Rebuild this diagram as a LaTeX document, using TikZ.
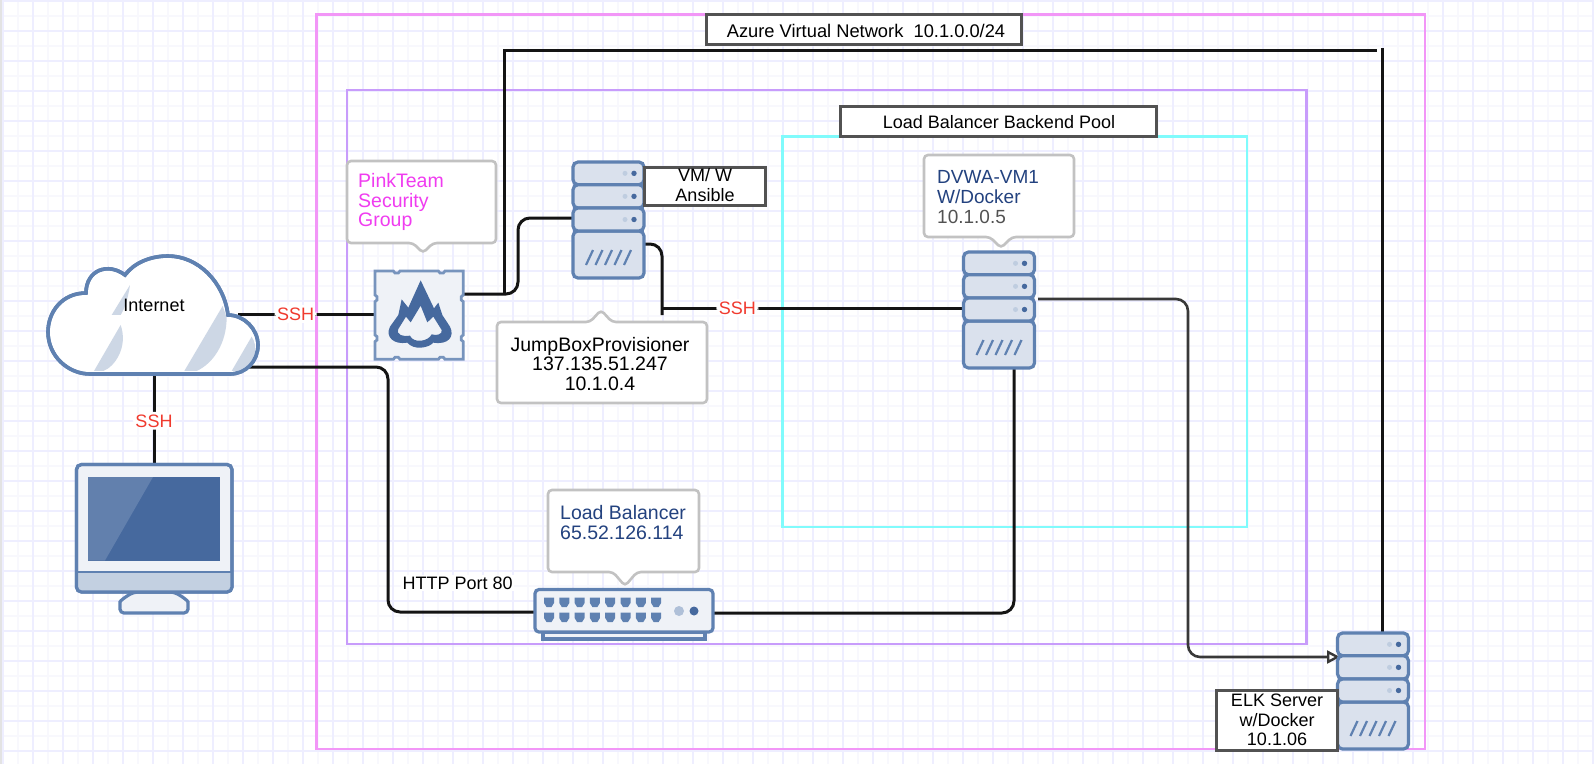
\documentclass[tikz,border=0pt]{standalone}
\usepackage{fontspec}
\setmainfont{Liberation Sans}
\usetikzlibrary{arrows.meta}
\definecolor{gridmaj}{HTML}{EEEEFF}
\definecolor{gridmin}{HTML}{F8F8FD}
\definecolor{iconblue}{HTML}{5F81B1}
\definecolor{deepblue}{HTML}{46699E}
\definecolor{panel}{HTML}{EFF2F7}
\definecolor{unitfill}{HTML}{DAE1ED}
\definecolor{cloudtint}{HTML}{CDD7E5}
\definecolor{chintint}{HTML}{C3D0E1}
\definecolor{sshred}{HTML}{F03A2E}
\definecolor{pinkreg}{HTML}{F296F7}
\definecolor{purpreg}{HTML}{C89CFB}
\definecolor{cyanreg}{HTML}{80FBFC}
\definecolor{navytext}{HTML}{23427F}
\definecolor{pinktext}{HTML}{F03CF0}
\tikzset{
  txt/.style={font=\fontsize{18}{19.6}\selectfont,inner sep=0pt,text=black},
  bubbletxt/.style={font=\fontsize{19.5}{19.6}\selectfont,inner sep=0pt,text=black},
  ssh/.style={font=\fontsize{18}{20}\selectfont,text=sshred,fill=white,inner sep=2.5pt},
  region/.style={line width=2.6pt,fill=none},
  wire/.style={line width=3pt,draw=black!92,rounded corners=12pt},
  thinwire/.style={line width=2.6pt,draw=black!78,rounded corners=12pt},
  labelbox/.style={draw=black!68,line width=3pt,fill=white},
  bubble/.style={draw=black!24,line width=2.6pt,fill=white,rounded corners=4pt},
  icon/.style={draw=iconblue,line width=3.2pt},
  serverpic/.pic={
    \draw[icon,fill=unitfill,rounded corners=5pt] (0,69) rectangle (71,116);
    \foreach \a/\b in {0/22.7,22.7/46,46/69}{
      \draw[icon,fill=unitfill,rounded corners=5pt] (0,\a) rectangle (71,\b);
      \fill[fill=iconblue!40] ({52},{(\a+\b)/2}) circle (2.5pt);
      \fill[fill=deepblue] ({61},{(\a+\b)/2}) circle (2.7pt);
    }
    \foreach \i in {0,...,4}{
      \draw[iconblue,line width=2.2pt] ({13+\i*9.5},103) -- ({20+\i*9.5},88);
    }
    \coordinate (-l3) at (0,56);
    \coordinate (-l2) at (0,24);
    \coordinate (-r3) at (74,47);
    \coordinate (-r4) at (72,82);
    \coordinate (-b) at (51,116);
    \coordinate (-t) at (45,0);
  }
}
\begin{document}
\begin{tikzpicture}[x=1pt,y=-1pt]
\useasboundingbox (0,0) rectangle (1594,764);
\fill[white] (0,0) rectangle (1594,764);
% grid
\foreach \k in {0,...,52}{
  \draw[gridmin,line width=1.3pt] ({18+30*\k},0) -- ({18+30*\k},764);
}
\foreach \k in {0,...,25}{
  \draw[gridmin,line width=1.3pt] (0,{16+30*\k}) -- (1594,{16+30*\k});
}
\foreach \k in {0,...,53}{
  \draw[gridmaj,line width=1.3pt] ({3+30*\k},0) -- ({3+30*\k},764);
}
\foreach \k in {0,...,25}{
  \draw[gridmaj,line width=1.3pt] (0,{1+30*\k}) -- (1594,{1+30*\k});
}
\fill[black!11] (0,0) rectangle (2,764);
% regions
\draw[region,pinkreg] (316.5,14.5) rectangle (1425,749);
\draw[region,purpreg] (347,90) rectangle (1306.7,644);
\draw[region,cyanreg] (782.7,136.5) rectangle (1247,527);
% anchors for connectors
\coordinate (cloudE) at (238,314);
\coordinate (cloudS) at (154,374);
\coordinate (cloudSE) at (243,367);
\coordinate (monN) at (154,464);
\coordinate (fwW) at (375,314);
\coordinate (fwE) at (463,294);
\coordinate (fwTap) at (504,294);
\coordinate (topEnd) at (1377,50);
\coordinate (riserTop) at (1382,48);
\coordinate (swW) at (535,612);
\coordinate (swE) at (713,613);
\coordinate (s1drop) at (662,308);
\coordinate (s1dropEnd) at (662,315);
% connectors
\draw[wire] (cloudE) -- (fwW) node[ssh,pos=0.42] (sshA) {SSH};
\draw[wire] (cloudS) -- (monN) node[ssh,pos=0.52] (sshB) {SSH};
\draw[wire] (cloudSE) -- (388,367) -- (388,612) -- (swW);
\draw[wire] (fwE) -- (518,294) -- (518,218) -- (573,218);
\draw[wire,rounded corners=0pt] (fwTap) -- (504,50) -- (topEnd);
\draw[wire,rounded corners=0pt] (riserTop) -- (1382,633);
\draw[wire] (645,244) -- (662,244) -- (s1dropEnd);
\draw[wire] (s1drop) -- (963,308) node[ssh,pos=0.25] (sshC) {SSH};
\draw[wire] (1014,368) -- (1014,613) -- (swE);
\draw[thinwire,-{Triangle[open,length=13pt,width=13pt,line width=2.4pt]}] (1038,299) -- (1188,299) -- (1188,657) -- (1340,657);
% cloud
\draw[icon,line width=3.6pt,fill=white] (90,374) -- (230,374)
  .. controls (246,374) and (258,361) .. (258,345)
  .. controls (258,329) and (244,315) .. (228,315)
  .. controls (224,282) and (198,256) .. (168,256)
  .. controls (150,256) and (134,263) .. (125,275)
  .. controls (108,262) and (86,270) .. (86,293)
  .. controls (62,293) and (48,312) .. (48,332)
  .. controls (48,356) and (68,374) .. (90,374) -- cycle;
\begin{scope}[shift={(0,230)},x=0.3333pt,y=-0.3333pt]
  \fill[cloudtint] (335,255) -- (390,165) .. controls (385,200) and (375,235) .. (362,255) -- cycle;
  \fill[cloudtint] (282,423) -- (362,285) .. controls (385,350) and (345,410) .. (310,423) -- cycle;
  \fill[cloudtint] (553,423) -- (668,228) -- (680,262) .. controls (680,340) and (640,400) .. (590,423) -- cycle;
  \fill[cloudtint] (695,423) -- (755,320) .. controls (775,350) and (770,395) .. (725,423) -- cycle;
\end{scope}
\draw[icon,line width=3.6pt] (90,374) -- (230,374)
  .. controls (246,374) and (258,361) .. (258,345)
  .. controls (258,329) and (244,315) .. (228,315)
  .. controls (224,282) and (198,256) .. (168,256)
  .. controls (150,256) and (134,263) .. (125,275)
  .. controls (108,262) and (86,270) .. (86,293)
  .. controls (62,293) and (48,312) .. (48,332)
  .. controls (48,356) and (68,374) .. (90,374) -- cycle;
\node[txt] (internet) at (154,305) {Internet};
% monitor
\draw[icon,fill=panel,rounded corners=4pt] (134,592) .. controls (125,597) and (120,601) .. (120,606) -- (120,613) -- (188,613) -- (188,606) .. controls (188,601) and (183,597) .. (174,592) -- cycle;
\draw[icon,fill=panel,rounded corners=5pt] (76.5,464.5) rectangle (232,592);
\fill[chintint] (78,572) rectangle (230.5,590.5);
\draw[iconblue,line width=1.6pt] (77,572) -- (232,572);
\draw[icon,rounded corners=5pt] (76.5,464.5) rectangle (232,592);
\fill[deepblue] (88,477) rectangle (219.5,560.5);
\fill[deepblue!85!white] (88,477) -- (153,477) -- (105,560.5) -- (88,560.5) -- cycle;
% firewall
\begin{scope}[shift={(330,140)},x=0.3333pt,y=-0.3333pt]
  \draw[draw=iconblue!85,line width=2.8pt,fill=panel] (135,393) -- (190,393) -- (195,399) -- (205,399) -- (210,393) -- (325,393) -- (330,399) -- (340,399) -- (345,393) -- (400,393)
   -- (400,465) -- (394,470) -- (394,480) -- (400,485) -- (400,585) -- (394,590) -- (394,600) -- (400,605) -- (400,658)
   -- (345,658) -- (340,652) -- (330,652) -- (325,658) -- (210,658) -- (205,652) -- (195,652) -- (190,658) -- (135,658)
   -- (135,605) -- (141,600) -- (141,590) -- (135,585) -- (135,485) -- (141,480) -- (141,470) -- (135,465) -- cycle;
\end{scope}
\begin{scope}[shift={(370,265)},x=0.3333pt,y=-0.3333pt]
  \fill[deepblue,even odd rule]
    (152,46) -- (192,130) -- (205,113) -- (217,150) -- (240,185)
    .. controls (255,215) and (235,240) .. (190,233)
    .. controls (175,250) and (130,256) .. (112,233)
    .. controls (70,240) and (45,215) .. (60,185) -- (85,150) -- (95,103) -- (115,128) -- cycle
    (152,122) -- (172,172) -- (190,155) -- (215,195)
    .. controls (218,208) and (200,213) .. (185,208)
    .. controls (175,230) and (130,236) .. (120,212)
    .. controls (100,216) and (78,210) .. (85,192) -- (108,155) -- (122,172) -- cycle;
\end{scope}
% servers
\pic (s1) at (573,162) {serverpic};
\pic (s2) at (963.5,252) {serverpic};
\pic (s3) at (1337.5,633) {serverpic};
% switch
\draw[icon,fill=panel] (543,632) rectangle (705,639);
\draw[icon,fill=panel,rounded corners=4pt] (535,589.5) rectangle (713,632);
\foreach \k in {0,...,7}{
  \fill[iconblue] ({544+15.3*\k},597.5) -- ({554+15.3*\k},597.5) -- ({554+15.3*\k},603) -- ({551.5+15.3*\k},607) -- ({546.5+15.3*\k},607) -- ({544+15.3*\k},603) -- cycle;
  \fill[iconblue] ({544+15.3*\k},612.5) -- ({554+15.3*\k},612.5) -- ({554+15.3*\k},618) -- ({551.5+15.3*\k},622) -- ({546.5+15.3*\k},622) -- ({544+15.3*\k},618) -- cycle;
}
\fill[iconblue!50] (679,611) circle (5pt);
\fill[deepblue] (694,611) circle (4.5pt);
% bubbles
\draw[bubble] (347,161) -- (496,161) -- (496,243) -- (433,243) -- (423,253) -- (413,243) -- (347,243) -- cycle;
\node[bubbletxt,text=pinktext,align=left,anchor=west] (pink) at (358,202) {PinkTeam\\Security\\Group};
\draw[bubble] (497,322) -- (590,322) -- (601,310) -- (612,322) -- (707,322) -- (707,403) -- (497,403) -- cycle;
\node[bubbletxt,align=center] (jump) at (600,364) {JumpBoxProvisioner\\137.135.51.247\\10.1.0.4};
\draw[bubble] (548,490) -- (699,490) -- (699,572) -- (637,572) -- (625,586) -- (613,572) -- (548,572) -- cycle;
\node[bubbletxt,text=navytext,align=left,anchor=west] (lbtext) at (560,522.5) {Load Balancer\\65.52.126.114};
\draw[bubble] (924,155) -- (1074,155) -- (1074,237) -- (1012,237) -- (1001,248) -- (990,237) -- (924,237) -- cycle;
\node[bubbletxt,font=\fontsize{19}{19.6}\selectfont,text=navytext,align=left,anchor=west] (dvwa) at (937,197) {DVWA-VM1\\W/Docker\\\textcolor{black!68}{10.1.0.5}};
% labelled boxes
\node[labelbox,minimum width=315pt,minimum height=29.5pt,inner sep=0pt] (azurebox) at (864,29.3) {};
\node[txt,font=\fontsize{18.3}{19.6}\selectfont] (azure) at (866,30.5) {Azure Virtual Network\ \ 10.1.0.0/24};
\node[labelbox,minimum width=316pt,minimum height=29.5pt,inner sep=0pt] (lbbox) at (998,121.7) {};
\node[txt] (lbpool) at (999,122.5) {Load Balancer Backend Pool};
\node[labelbox,minimum width=121pt,minimum height=38pt,inner sep=0pt] (vmbox) at (704.5,186) {};
\node[txt,align=center] (vm) at (705,185) {VM/ W\\Ansible};
\node[labelbox,minimum width=121pt,minimum height=60pt,inner sep=0pt] (elkbox) at (1276.5,720) {};
\node[txt,align=center] (elk) at (1277,720) {ELK Server\\w/Docker\\10.1.06};
\node[txt,fill=white,inner sep=1.5pt,anchor=west] (http) at (401,583) {HTTP Port 80};
\end{tikzpicture}
\end{document}
